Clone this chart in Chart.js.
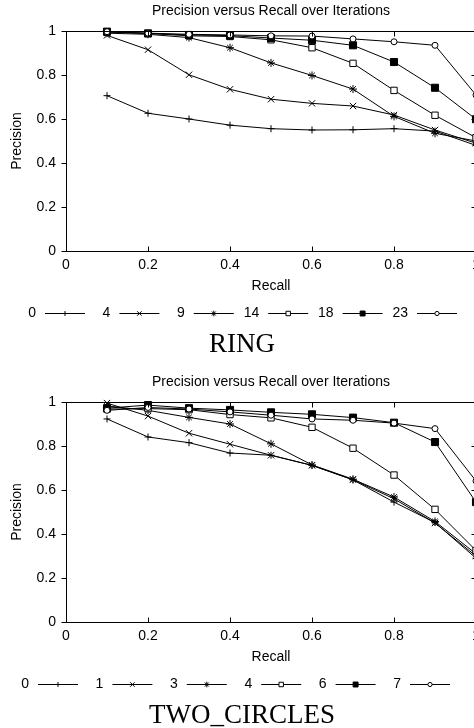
<!DOCTYPE html>
<html lang="en">
<head>
  <meta charset="UTF-8">
  <title>Precision versus Recall over Iterations</title>
  <script src="https://cdn.jsdelivr.net/npm/chart.js"></script>
  <style>
    html, body {
      margin: 0;
      padding: 0;
      background: #ffffff;
      overflow: hidden;
    }
    body {
      width: 474px;
      height: 728px;
      position: relative;
    }
    .block {
      position: absolute;
      left: 0;
      width: 542px;
      height: 371px;
    }
    .block canvas {
      position: absolute;
      left: 0;
      top: 0;
    }
    .caption {
      position: absolute;
      left: 0;
      width: 484px;
      top: 327px;
      text-align: center;
      font-family: 'Liberation Serif', 'Times New Roman', serif;
      font-size: 27px;
      line-height: 32px;
      color: #000;
    }
  </style>
</head>
<body>
  <div class="block" style="top:0px">
    <canvas id="ringChart" width="542" height="330"></canvas>
    <div class="caption">RING</div>
  </div>
  <div class="block" style="top:371px">
    <canvas id="twoCirclesChart" width="542" height="330"></canvas>
    <div class="caption">TWO_CIRCLES</div>
  </div>

  <script>
    // recall levels (x axis)
    const recall = [0.1, 0.2, 0.3, 0.4, 0.5, 0.6, 0.7, 0.8, 0.9, 1.0];

    // RING
    const ringIterations = ['0', '4', '9', '14', '18', '23'];
    const ring0  = [0.706, 0.626, 0.600, 0.572, 0.556, 0.550, 0.551, 0.556, 0.545, 0.480];
    const ring4  = [0.980, 0.915, 0.801, 0.735, 0.690, 0.671, 0.659, 0.618, 0.550, 0.490];
    const ring9  = [0.990, 0.985, 0.970, 0.924, 0.855, 0.798, 0.736, 0.612, 0.535, 0.500];
    const ring14 = [0.995, 0.989, 0.978, 0.975, 0.960, 0.924, 0.853, 0.730, 0.617, 0.515];
    const ring18 = [0.997, 0.989, 0.982, 0.979, 0.968, 0.958, 0.935, 0.859, 0.742, 0.599];
    const ring23 = [0.997, 0.990, 0.985, 0.982, 0.978, 0.977, 0.964, 0.951, 0.935, 0.709];

    // TWO_CIRCLES
    const twoIterations = ['0', '1', '3', '4', '6', '7'];
    const two0 = [0.923, 0.841, 0.815, 0.768, 0.758, 0.712, 0.646, 0.545, 0.452, 0.290];
    const two1 = [0.995, 0.936, 0.858, 0.808, 0.758, 0.712, 0.647, 0.560, 0.450, 0.300];
    const two3 = [0.982, 0.962, 0.930, 0.900, 0.810, 0.714, 0.649, 0.568, 0.457, 0.310];
    const two4 = [0.968, 0.970, 0.965, 0.943, 0.928, 0.885, 0.790, 0.668, 0.512, 0.325];
    const two6 = [0.972, 0.986, 0.972, 0.964, 0.953, 0.944, 0.929, 0.906, 0.818, 0.545];
    const two7 = [0.962, 0.975, 0.968, 0.955, 0.940, 0.923, 0.917, 0.904, 0.879, 0.641];

    const axisTicks = [0, 0.2, 0.4, 0.6, 0.8, 1];

    // gnuplot-like point types: + x * open-square filled-square open-circle
    const markerStyle  = ['cross', 'crossRot', 'star', 'rect', 'rect', 'circle'];
    const markerFill   = ['#000', '#000', '#000', '#fff', '#000', '#fff'];
    const markerRadius = [3.5, 4.5, 4, 4.5, 5, 3];

    Chart.defaults.font.family = '"Liberation Sans", Arial, sans-serif';
    Chart.defaults.font.size = 14;
    Chart.defaults.color = '#000';

    const tickLabel = v => String(Math.round(v * 10) / 10);

    // frame with inner ticks (outer on the left side)
    const framePlugin = {
      id: 'frame',
      afterDatasetsDraw(chart) {
        const { ctx, chartArea: a, scales: { x, y } } = chart;
        ctx.save();
        ctx.strokeStyle = '#000';
        ctx.lineWidth = 1;
        const l = Math.round(a.left) + 0.5, r = Math.round(a.right) + 0.5;
        const t = Math.round(a.top) + 0.5, b = Math.round(a.bottom) + 0.5;
        ctx.strokeRect(l, t, r - l, b - t);
        ctx.beginPath();
        x.ticks.forEach(tk => {
          const px = Math.round(x.getPixelForValue(tk.value)) + 0.5;
          ctx.moveTo(px, b); ctx.lineTo(px, b - 5);
          ctx.moveTo(px, t); ctx.lineTo(px, t + 5);
        });
        y.ticks.forEach(tk => {
          const py = Math.round(y.getPixelForValue(tk.value)) + 0.5;
          ctx.moveTo(l - 5, py); ctx.lineTo(l, py);
          ctx.moveTo(r, py); ctx.lineTo(r - 5, py);
        });
        ctx.stroke();
        ctx.restore();
      }
    };

    // key row under the axis: label, then line with the point marker
    const keyPlugin = {
      id: 'iterKey',
      afterDraw(chart, args, opts) {
        const ctx = chart.ctx;
        ctx.save();
        ctx.font = '14px "Liberation Sans", Arial, sans-serif';
        ctx.textBaseline = 'middle';
        ctx.textAlign = 'right';
        chart.data.datasets.forEach((ds, i) => {
          const x0 = opts.start + i * opts.step;
          const yy = opts.y + 0.5;
          ctx.fillStyle = '#000';
          ctx.fillText(ds.label, x0 - 9, opts.y);
          ctx.strokeStyle = '#000';
          ctx.lineWidth = 1;
          ctx.beginPath();
          ctx.moveTo(x0, yy);
          ctx.lineTo(x0 + 40, yy);
          ctx.stroke();
          ctx.fillStyle = ds.pointBackgroundColor;
          Chart.helpers.drawPoint(ctx, {
            pointStyle: ds.pointStyle,
            radius: ds.pointRadius * 0.7,
            borderWidth: 1
          }, x0 + 20, yy);
        });
        ctx.restore();
      }
    };

    function makeChart(id, iterations, series, keyStart) {
      return new Chart(document.getElementById(id), {
        type: 'line',
        data: {
          datasets: series.map((vals, i) => ({
            label: iterations[i],
            data: vals.map((v, k) => ({ x: recall[k], y: v })),
            borderColor: '#000',
            borderWidth: 1,
            tension: 0,
            pointStyle: markerStyle[i],
            pointRadius: markerRadius[i],
            pointBorderColor: '#000',
            pointBorderWidth: 1,
            pointBackgroundColor: markerFill[i],
            order: series.length - i,
            clip: false
          }))
        },
        options: {
          responsive: false,
          animation: false,
          layout: { padding: { left: 0, right: 66, top: 0, bottom: 34 } },
          plugins: {
            legend: { display: false },
            tooltip: { enabled: false },
            title: {
              display: true,
              fullSize: false,
              text: 'Precision versus Recall over Iterations',
              color: '#000',
              font: { size: 14, weight: 'normal' },
              padding: { top: 3, bottom: 11.2 }
            },
            iterKey: { start: keyStart, step: 74.4, y: 313 }
          },
          scales: {
            x: {
              type: 'linear',
              min: 0,
              max: 1,
              afterBuildTicks: s => { s.ticks = axisTicks.map(v => ({ value: v })); },
              ticks: { padding: 6, maxRotation: 0, color: '#000', callback: tickLabel },
              grid: { display: false, drawTicks: false },
              border: { display: false },
              title: { display: true, text: 'Recall', color: '#000', padding: { top: 0, bottom: 1.6 } },
              afterFit: s => { s.height = 45; }
            },
            y: {
              min: 0,
              max: 1,
              afterBuildTicks: s => { s.ticks = axisTicks.map(v => ({ value: v })); },
              ticks: { padding: 10, color: '#000', callback: tickLabel },
              grid: { display: false, drawTicks: false },
              border: { display: false },
              title: { display: true, text: 'Precision', color: '#000', padding: { top: 8.6, bottom: 0 } },
              afterFit: s => { s.width = 66; }
            }
          }
        },
        plugins: [framePlugin, keyPlugin]
      });
    }

    makeChart('ringChart', ringIterations, [ring0, ring4, ring9, ring14, ring18, ring23], 45);
    makeChart('twoCirclesChart', twoIterations, [two0, two1, two3, two4, two6, two7], 38);
  </script>
</body>
</html>
